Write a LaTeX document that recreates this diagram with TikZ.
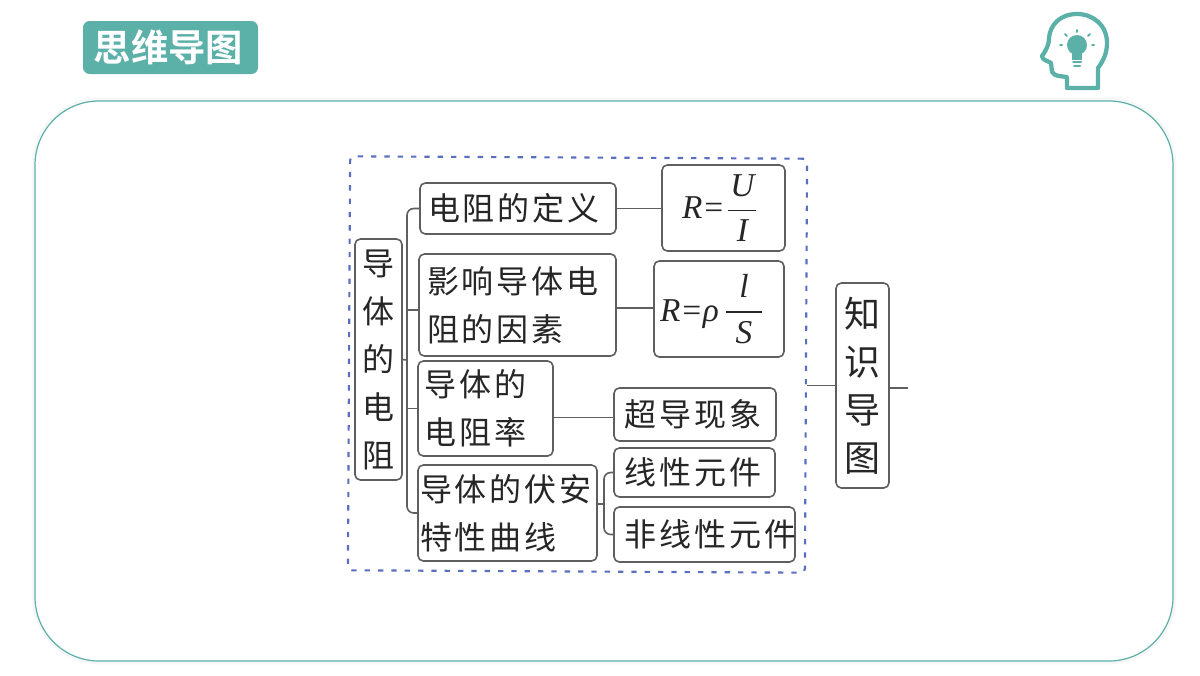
\documentclass[tikz,border=0pt]{standalone}
\usepackage{amsmath,amssymb}
\usepackage{fontspec}
\usepackage{tikz}
\newfontfamily\cjk[LetterSpace=9]{Noto Sans CJK SC}
\newfontfamily\cjkbold[BoldFont={Noto Sans CJK SC Bold}]{Noto Sans CJK SC}
\newfontfamily\formula{Liberation Serif}
\definecolor{teal}{HTML}{5BB0A8}
\definecolor{inkgray}{HTML}{5F5F5F}
\definecolor{dashblue}{HTML}{5A6FC0}
\newcommand{\fracit}[3]{$\genfrac{}{}{1pt}{0}{\hbox to #1{\hss\formula\itshape #2\hss}}{\hbox to #1{\hss\formula\itshape #3\hss}}$}

\begin{document}
\begin{tikzpicture}[x=0.75pt,y=-0.75pt,
    box/.style={draw=inkgray, line width=1.2pt, rounded corners=4pt, anchor=north west, outer sep=0pt, inner ysep=0pt, align=left, text=black!85, font={\cjk\fontsize{24pt}{36pt}\selectfont}},
    vbox/.style={box, align=center, inner xsep=0pt},
    mathbox/.style={box, font={\formula\fontsize{25pt}{30pt}\selectfont}},
    link/.style={draw=inkgray, line width=1.2pt},
    ray/.style={draw=teal, line width=1.5pt, line cap=round}]
    \useasboundingbox (0,0) rectangle (1200,675);

    % panel and title
    \draw[black!3, line width=5pt, rounded corners=48pt] (35,101) rectangle (1173,661);
    \draw[teal, fill=white, line width=0.9pt, rounded corners=48pt] (35,101) rectangle (1173,661);
    \node[fill=teal, rounded corners=5pt, minimum width=131.25pt, minimum height=39.75pt, inner sep=0pt, text=white,
      font={\cjkbold\bfseries\fontsize{28pt}{30pt}\selectfont}] (title) at (170.5,47.5) {\kern-3pt 思维导图};

    % head icon
    \draw[teal, line width=3.2pt, line join=round] (1067,77) -- (1067,88) -- (1098,88) -- (1098,68)
      .. controls (1104,60) and (1107,52) .. (1107,43)
      .. controls (1107,25) and (1093,14) .. (1077,14)
      .. controls (1060,14) and (1050,25) .. (1049,38)
      .. controls (1049,44) and (1047,49) .. (1042,56)
      .. controls (1042,60) and (1048,61) .. (1051,63)
      -- (1052,72) .. controls (1055,77) and (1062,76) .. (1067,77) -- cycle;
    \fill[teal] (1077,45) circle (10);
    \fill[teal] (1072,52) rectangle (1082,60);
    \draw[ray] (1073,62) -- (1081,62);
    \draw[ray] (1074,65.5) -- (1080,65.5);
    \draw[ray] (1077,30) -- (1077,32);
    \draw[ray] (1065,34) -- (1067,36);
    \draw[ray] (1090,34) -- (1088,36);
    \draw[ray] (1060,45) -- (1062,45);
    \draw[ray] (1092,45) -- (1094,45);

    % dashed frame
    \node[draw=dashblue, dash pattern=on 4pt off 6pt, line width=1.6pt, rounded corners=3pt, rotate=-0.3,
      minimum width=342.75pt, minimum height=310.5pt, inner sep=0pt] (frame) at (577.5,364.5) {};

    \node[vbox, text width=35.25pt, minimum height=180.75pt] (hub) at (355,239) {导\\体\\的\\电\\阻};
    \node[box, inner xsep=6pt, text width=135pt, minimum height=38.25pt] (def) at (420,183) {电阻的定义};
    \node[box, inner xsep=6pt, text width=135.75pt, minimum height=76.5pt] (infl) at (419,254) {影响导体电\\阻的因素};
    \node[box, inner xsep=5pt, text width=91.25pt, minimum height=71.25pt] (rate) at (418,361) {导体的\\电阻率};
    \node[box, inner xsep=1.5pt, text width=131.25pt, minimum height=72pt] (curve) at (418,465) {导体的伏安\\特性曲线};

    \node[mathbox, inner xsep=15pt, text width=62.25pt, minimum height=64.5pt] (ohm) at (662,165) {\itshape R=\kern1.5pt\fracit{21pt}{U}{I}};
    \node[mathbox, inner xsep=4.5pt, text width=88.5pt, minimum height=72pt] (rho) at (654,261)
      {\raisebox{3pt}{\itshape R=ρ}\,\raisebox{3.75pt}{\fracit{27pt}{l}{S}}};
    \node[box, inner xsep=8pt, text width=105.5pt, minimum height=39.75pt] (super) at (614,388) {超导现象};
    \node[box, inner xsep=8pt, text width=104.75pt, minimum height=36.75pt] (linear) at (614,448) {线性元件};
    \node[box, inner xsep=8pt, text width=119.75pt, minimum height=41.25pt] (nonlin) at (614,507) {非线性元件};

    \node[vbox, text width=39.75pt, minimum height=153.75pt, font={\cjk\fontsize{27pt}{36pt}\selectfont}] (know) at (836,283) {知\\识\\导\\图};

    % connectors
    \coordinate (trunk) at (407,360);
    \coordinate (fork) at (604,504);
    \coordinate (tail) at (908,388);
    \draw[link, rounded corners=5pt] (def.west) -| (trunk) |- (curve.west);
    \draw[link] (hub.east) -- (trunk);
    \draw[link] ([yshift=-3.75pt]infl.west) -- (trunk |- 0,310);
    \draw[link] (rate.west) -- (trunk |- rate.west);
    \draw[link] (def.east) -- (ohm.west |- def.east);
    \draw[link] ([yshift=-2.25pt]infl.east) -- ([yshift=-2.25pt]rho.west |- infl.east);
    \draw[link] ([yshift=-6.75pt]rate.east) -- ([yshift=-6.75pt]super.west |- rate.east);
    \draw[link, rounded corners=5pt] (linear.west) -| (fork) |- (nonlin.west);
    \draw[link] (curve.east |- fork) -- (fork);
    \draw[link] (frame.east |- know.west) -- (know.west);
    \draw[link] (know.east |- tail) -- (tail);
\end{tikzpicture}
\end{document}
